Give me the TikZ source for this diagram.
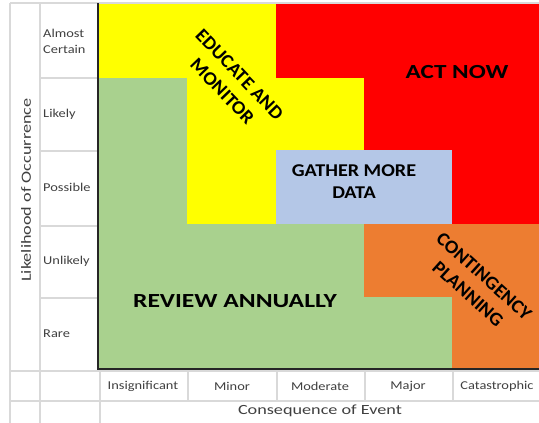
\documentclass[tikz,border=0pt]{standalone}
\usepackage{fontspec}
\setmainfont{Carlito}
\definecolor{gridgray}{HTML}{D9D9D9}
\definecolor{labgray}{HTML}{404040}
\definecolor{ryellow}{HTML}{FFFF00}
\definecolor{rred}{HTML}{FF0000}
\definecolor{rblue}{HTML}{B4C7E7}
\definecolor{rgreen}{HTML}{A9D18E}
\definecolor{rorange}{HTML}{ED7D31}
\begin{document}
\begin{tikzpicture}[x=1pt,y=-1pt,
  gridline/.style={draw=gridgray,line width=1.3pt},
  axisline/.style={draw=black!85,line width=1.6pt},
  rowlab/.style={anchor=west,inner sep=0pt,text=labgray,xscale=1.2,font=\fontsize{12}{16}\selectfont,align=left},
  collab/.style={inner sep=0pt,text=labgray,xscale=1.2,font=\fontsize{12}{14}\selectfont},
  axtitle/.style={inner sep=0pt,text=labgray,font=\fontsize{14}{16}\selectfont},
  bigtext/.style={inner sep=0pt,text=black,font=\fontsize{20}{24}\selectfont\bfseries},
  midtext/.style={inner sep=0pt,text=black,align=center,font=\fontsize{18}{22}\selectfont\bfseries},
  rottext/.style={inner sep=0pt,text=black,align=center,font=\fontsize{19}{24}\selectfont\bfseries}]
\useasboundingbox (0,0) rectangle (539,423);
\fill[white] (0,0) rectangle (539,423);
% chart colour regions
\fill[rgreen] (98,3.5) rectangle (539,369);
\fill[ryellow] (98,3.5) rectangle (276,78);
\fill[ryellow] (187,78) rectangle (364,150);
\fill[ryellow] (187,150) rectangle (276,224);
\fill[rred] (276,3.5) rectangle (539,78);
\fill[rred] (364,78) rectangle (539,224);
\fill[rblue] (276,150) rectangle (452,224);
\fill[rorange] (364,224) rectangle (539,297);
\fill[rorange] (452,297) rectangle (539,369);
% grid lines
\draw[gridline] (10,3) -- (539,3);
\draw[gridline] (40,78) -- (98,78);
\draw[gridline] (40,151) -- (98,151);
\draw[gridline] (40,226) -- (98,226);
\draw[gridline] (40,298) -- (98,298);
\draw[gridline] (10,371) -- (539,371);
\draw[gridline] (10,401) -- (539,401);
\draw[gridline] (10,3) -- (10,423);
\draw[gridline] (40,3) -- (40,423);
\draw[gridline] (100,371) -- (100,423);
\draw[gridline] (188,371) -- (188,401);
\draw[gridline] (277,371) -- (277,401);
\draw[gridline] (365,371) -- (365,401);
\draw[gridline] (453,371) -- (453,401);
% axes
\draw[axisline] (98,3) -- (98,369) -- (539,369);
% row labels
\node[rowlab] (almost) at (43,41.5) {Almost\\Certain};
\node[rowlab] (likely) at (43,114) {Likely};
\node[rowlab] (possible) at (43,187) {Possible};
\node[rowlab] (unlikely) at (43,261) {Unlikely};
\node[rowlab] (rare) at (43,334) {Rare};
% column labels
\node[collab] (insig) at (143,386) {Insignificant};
\node[collab] (minor) at (232,386) {Minor};
\node[collab] (moderate) at (320,386) {Moderate};
\node[collab] (major) at (408,386) {Major};
\node[collab] (cat) at (497,386) {Catastrophic};
% axis titles
\node[axtitle,xscale=1.3] (cons) at (320,411) {Consequence of Event};
\node[axtitle,rotate=90,xscale=1.3] (like) at (26,190) {Likelihood of Occurrence};
% region labels
\node[bigtext,xscale=1.26] (act) at (457,72) {ACT NOW};
\node[bigtext,xscale=1.28] (review) at (235,301) {REVIEW ANNUALLY};
\node[midtext,xscale=1.12] (gather) at (354,182) {GATHER MORE\\DATA};
\node[rottext,rotate=-46,xscale=1.04] (educate) at (231,83) {EDUCATE AND\\MONITOR};
\node[rottext,rotate=-42,xscale=1.04] (contin) at (476,285) {CONTINGENCY\\PLANNING};
\end{tikzpicture}
\end{document}
